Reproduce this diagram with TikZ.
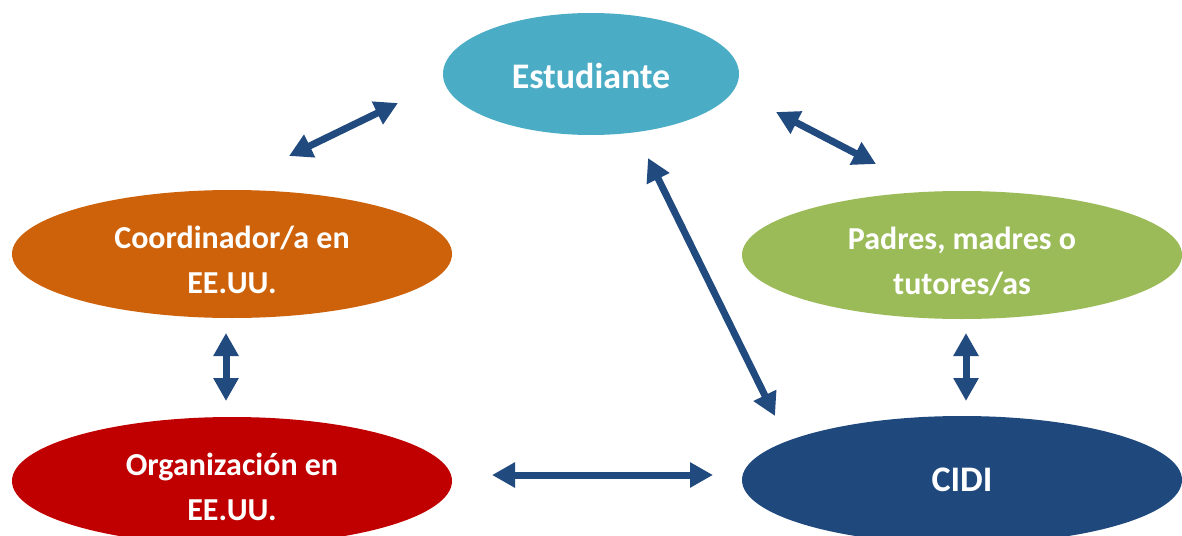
\documentclass[tikz,border=0pt]{standalone}
\usepackage{fontspec}
\setmainfont{Carlito}
\usepackage{xcolor}
\usepackage{tikz}
\usetikzlibrary{shapes.geometric}
\usetikzlibrary{arrows.meta}

\definecolor{estblue}{HTML}{4BACC6}
\definecolor{coordorange}{HTML}{CD620A}
\definecolor{padgreen}{HTML}{9BBB59}
\definecolor{orgred}{HTML}{C00000}
\definecolor{cidiblue}{HTML}{1F497D}
\definecolor{linkblue}{HTML}{214A7E}

\begin{document}
\begin{tikzpicture}[x=1pt,y=-1pt,
    party/.style={ellipse,inner sep=0pt,minimum width=440pt,minimum height=128pt,
      text=white,align=center,text height=78pt,text depth=0pt,
      font=\bfseries\fontsize{32}{45}\selectfont},
    bigname/.style={text height=28pt,font=\bfseries\fontsize{36}{44}\selectfont},
    link/.style={draw=linkblue,line width=7pt,
      {Triangle[width=24pt,length=23pt]}-{Triangle[width=24pt,length=23pt]}}]
    \useasboundingbox (0,0) rectangle (1182,535);
    \node[party,bigname,fill=estblue,minimum width=296pt,minimum height=122pt] (est) at (591,74) {Estudiante};
    \node[party,fill=coordorange] (coord) at (232,254) {Coordinador/a en\\EE.UU.};
    \node[party,fill=padgreen] (pad) at (962,255) {Padres, madres o\\tutores/as};
    \node[party,fill=orgred] (org) at (232,481) {Organización en\\EE.UU.};
    \node[party,bigname,text height=22pt,fill=cidiblue] (cidi) at (962,480) {CIDI};
    \coordinate (est-coord) at (398,103);
    \coordinate (coord-est) at (289,156);
    \coordinate (est-pad) at (776,112);
    \coordinate (pad-est) at (876,164);
    \coordinate (est-cidi) at (648,158);
    \coordinate (cidi-est) at (775,416);
    \coordinate (coord-org) at (226,333);
    \coordinate (org-coord) at (226,401);
    \coordinate (pad-cidi) at (966,333);
    \coordinate (cidi-pad) at (966,401);
    \coordinate (org-cidi) at (492,475);
    \coordinate (cidi-org) at (713,475);
    \draw[link] (est-coord) -- (coord-est);
    \draw[link] (est-pad) -- (pad-est);
    \draw[link] (est-cidi) -- (cidi-est);
    \draw[link] (coord-org) -- (org-coord);
    \draw[link] (pad-cidi) -- (cidi-pad);
    \draw[link] (org-cidi) -- (cidi-org);
  \end{tikzpicture}
\end{document}
